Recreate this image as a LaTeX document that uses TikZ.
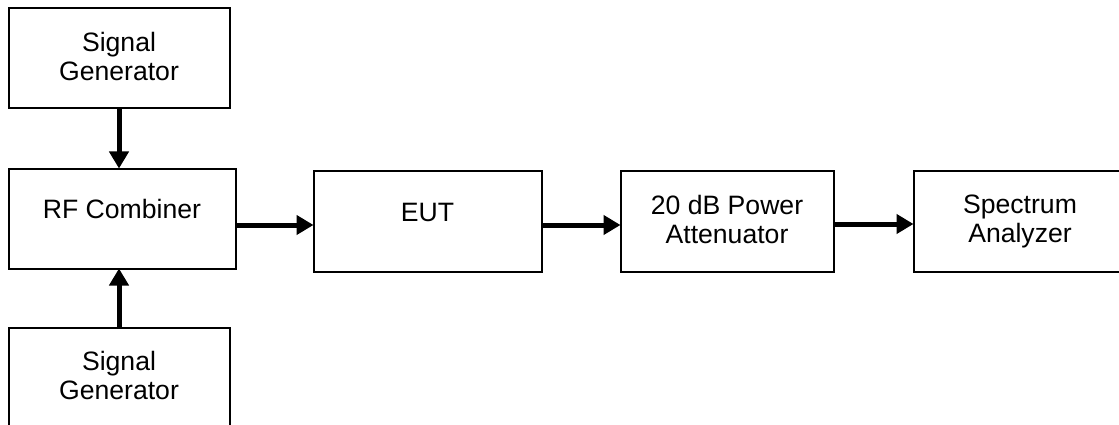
\documentclass[tikz,border=0pt]{standalone}
\usepackage{fontspec}
\setmainfont{Liberation Sans}
\usetikzlibrary{arrows.meta}
\begin{document}
\begin{tikzpicture}[x=1pt,y=-1pt,
  blk/.style={draw=black,line width=2pt,rectangle,inner sep=0pt,outer sep=0pt,
    align=center,font=\fontsize{26.6pt}{29pt}\selectfont,fill=white},
  one/.style={text height=19pt,text depth=19pt},
  two/.style={text depth=4pt},
  conn/.style={line width=5pt,-{Triangle[length=17pt,width=19pt]}}]
\useasboundingbox (0,0) rectangle (1119,425);
\clip (0,0) rectangle (1119,425);
\node[blk,two,minimum width=221pt,minimum height=100pt] (sg1) at (119,58.5) {Signal\\Generator};
\node[blk,one,minimum width=227pt,minimum height=100pt] (rf) at (122,218.5) {RF Combiner};
\node[blk,two,minimum width=221pt,minimum height=100pt] (sg2) at (119,377.5) {Signal\\Generator};
\node[blk,one,minimum width=228pt,minimum height=101pt] (eut) at (427.5,221) {EUT};
\node[blk,two,minimum width=213pt,minimum height=101pt] (att) at (727,221) {20 dB Power\\Attenuator};
\node[blk,two,minimum width=213pt,minimum height=101pt] (sa) at (1020,221) {Spectrum\\Analyzer};
\draw[conn] (sg1.south) -- (sg1.south |- rf.north);
\draw[conn] (sg2.north) -- (sg2.north |- rf.south);
\draw[conn] ([yshift=-6.5pt]rf.east) -- ([yshift=-4pt]eut.west);
\draw[conn] ([yshift=-4pt]eut.east) -- ([yshift=-4pt]att.west);
\draw[conn] ([yshift=-3pt]att.east) -- ([yshift=-3pt]sa.west);
\end{tikzpicture}
\end{document}
